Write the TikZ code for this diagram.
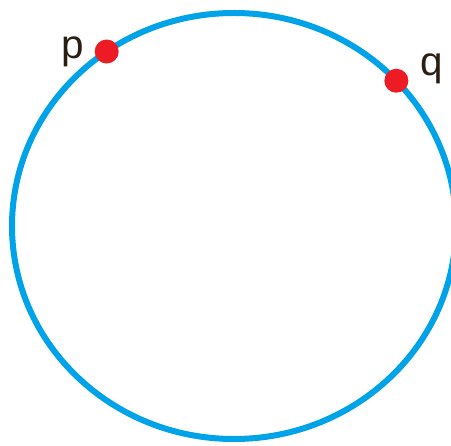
\documentclass[tikz,border=0pt]{standalone}
\usepackage{fontspec}
\setmainfont{Liberation Sans}
\definecolor{CircleBlue}{RGB}{0,162,232}
\definecolor{PointRed}{RGB}{237,28,36}
\definecolor{LabelDark}{RGB}{40,30,20}
\usetikzlibrary{positioning}

\begin{document}
\begin{tikzpicture}[dot/.style={circle, fill=PointRed, inner sep=0pt, minimum size=0.48cm},
                    lbl/.style={LabelDark, inner sep=0pt, font=\fontsize{23}{26}\selectfont}]
          \useasboundingbox (-4.68,-4.38) rectangle (4.34,4.52);
          \draw[CircleBlue, line width=0.12cm] (0,0) ellipse (4.44 and 4.26);
          \node[dot] (p) at (125:4.44 and 4.26) {};
          \node[dot] (q) at (43:4.44 and 4.26) {};
          \node[lbl, left=0.2cm of p] (plabel) {p};
          \node[lbl, right=0.22cm of q, yshift=0.24cm] (qlabel) {q};
        \end{tikzpicture}
\end{document}
